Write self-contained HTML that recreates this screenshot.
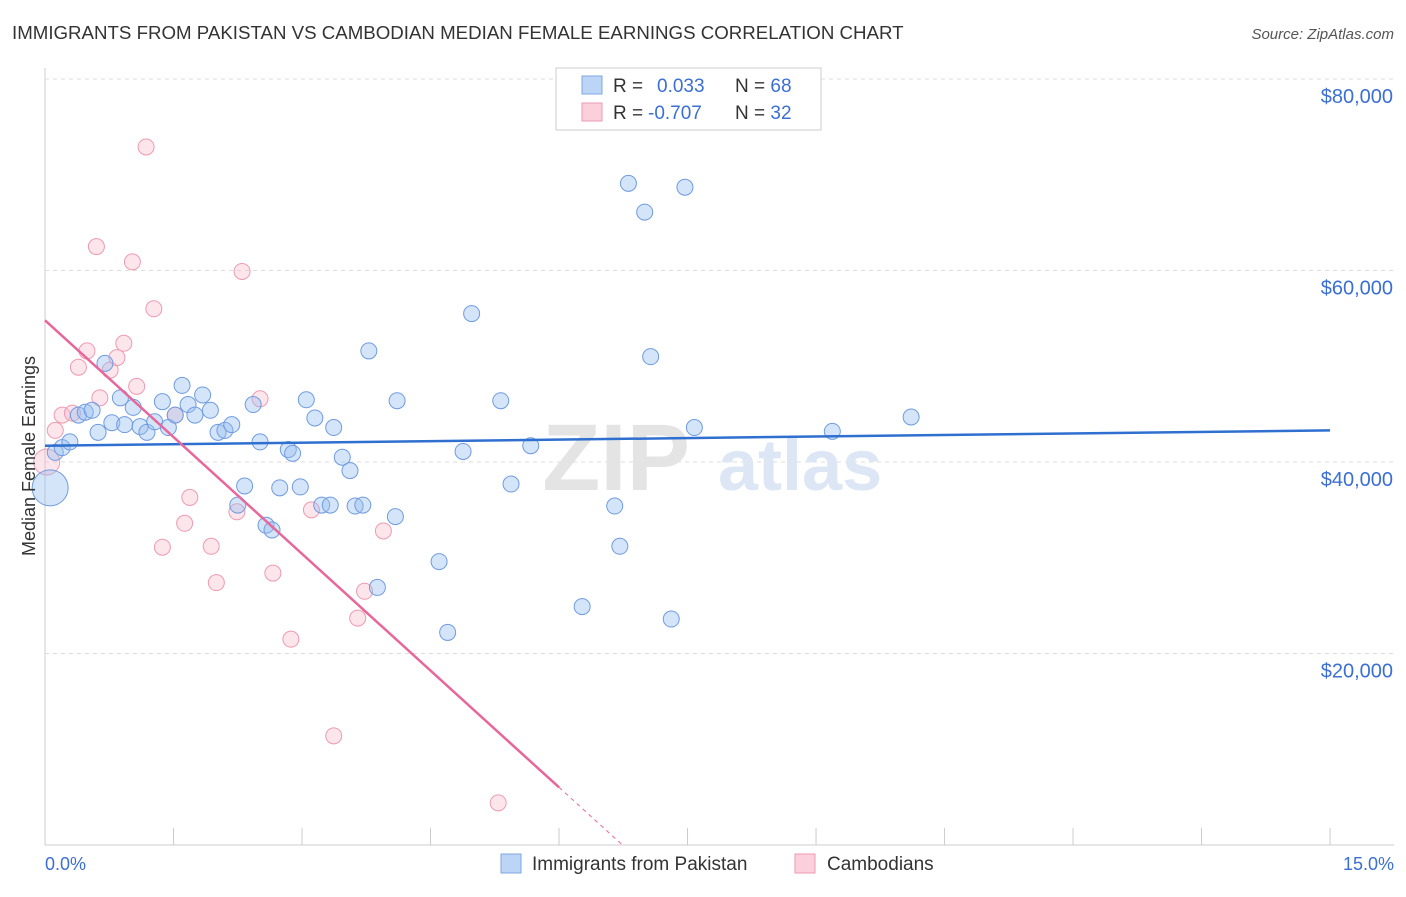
<!DOCTYPE html>
<html><head><meta charset="utf-8"><style>
body{margin:0;background:#fff;font-family:"Liberation Sans",sans-serif;}
svg text{font-family:"Liberation Sans",sans-serif;}
</style></head><body>
<svg id="chart" width="1406" height="892" xmlns="http://www.w3.org/2000/svg">
<text x="12" y="39" font-size="18.7" fill="#333">IMMIGRANTS FROM PAKISTAN VS CAMBODIAN MEDIAN FEMALE EARNINGS CORRELATION CHART</text>
<text x="1394" y="39" font-size="15" fill="#555" font-style="italic" text-anchor="end">Source: ZipAtlas.com</text>
<g id="grid"></g>
<text x="690" y="490" font-size="95" fill="#e4e4e4" font-family="Liberation Serif" text-anchor="end" font-weight="bold">ZIP</text>
<text x="718" y="490" font-size="72" fill="#dce6f5" font-weight="bold">atlas</text>
<g id="pts"></g>
<g id="lines"></g>
<text x="35" y="456" font-size="18" fill="#333" text-anchor="middle" transform="rotate(-90 35 456)">Median Female Earnings</text>
<text x="45" y="870" font-size="18" fill="#3b6fd4">0.0%</text>
<text x="1394" y="870" font-size="18" fill="#3b6fd4" text-anchor="end">15.0%</text>
<g>
<rect x="556" y="68" width="265" height="62" fill="#fff" stroke="#ccc"/>
<rect x="582" y="76" width="20" height="18" fill="#bcd4f5" stroke="#7fa6e0"/>
<rect x="582" y="103" width="20" height="18" fill="#fbd0dc" stroke="#ee9ab2"/>
<text x="613" y="92" font-size="19" fill="#333">R = <tspan fill="#3b6fd4" x="657">0.033</tspan><tspan x="735">N = </tspan><tspan fill="#3b6fd4">68</tspan></text>
<text x="613" y="119" font-size="19" fill="#333">R = <tspan fill="#3b6fd4" x="648">-0.707</tspan><tspan x="735">N = </tspan><tspan fill="#3b6fd4">32</tspan></text>
</g>
<g>
<rect x="501" y="854" width="20" height="19" fill="#bcd4f5" stroke="#7fa6e0"/>
<text x="532" y="870" font-size="19" fill="#333">Immigrants from Pakistan</text>
<rect x="795" y="854" width="20" height="19" fill="#fbd0dc" stroke="#ee9ab2"/>
<text x="827" y="870" font-size="19" fill="#333">Cambodians</text>
</g>
</svg>
<script>
const yTicks=[20000,40000,60000,80000];
const yTickLabels=["$20,000","$40,000","$60,000","$80,000"];
const blueX=[0.06,0.12,0.20,0.29,0.39,0.47,0.55,0.62,0.70,0.78,0.88,0.93,1.03,1.11,1.19,1.28,1.37,1.44,1.52,1.60,1.67,1.75,1.84,1.93,2.02,2.10,2.18,2.25,2.33,2.43,2.51,2.58,2.65,2.74,2.84,2.89,2.98,3.05,3.15,3.23,3.33,3.37,3.47,3.56,3.62,3.71,3.78,3.88,4.09,4.11,4.60,4.70,4.88,4.98,5.32,5.44,5.67,6.27,6.65,6.71,6.81,7.00,7.07,7.31,7.47,7.58,9.19,10.11];
const blueY=[37300,41000,41500,42100,44900,45200,45400,43100,50300,44100,46700,43900,45700,43700,43100,44200,46300,43600,44900,48000,46000,44900,47000,45400,43100,43300,43900,35500,37500,46000,42100,33400,32900,37300,41300,40900,37400,46500,44600,35500,35500,43600,40500,39100,35400,35500,51600,26900,34300,46400,29600,22200,41100,55500,46400,37700,41700,24900,35400,31200,69100,66100,51000,23600,68700,43600,43200,44700];
const pinkX=[0.02,0.12,0.20,0.32,0.39,0.49,0.60,0.64,0.76,0.84,0.92,1.02,1.07,1.18,1.27,1.37,1.52,1.63,1.69,1.94,2.00,2.24,2.30,2.51,2.66,2.87,3.11,3.37,3.65,3.73,3.95,5.29];
const pinkY=[40000,43300,44900,45100,49900,51600,62500,46700,49600,50900,52400,60900,47900,72900,56000,31100,44900,33600,36300,31200,27400,34800,59900,46600,28400,21500,35000,11400,23700,26500,32800,4400];
const blueTrend=[41700,43300];
const pinkTrend=[54800,-8130];
const NS="http://www.w3.org/2000/svg";
const xs=p=>45+p*85.67;
const ys=v=>845-v/20000*191.5;
function mk(tag,attrs,parent){const e=document.createElementNS(NS,tag);for(const k in attrs)e.setAttribute(k,attrs[k]);parent.appendChild(e);return e;}
const grid=document.getElementById('grid');
mk('line',{x1:45,y1:68,x2:45,y2:845,stroke:'#ccc'},grid);
mk('line',{x1:45,y1:845,x2:1394,y2:845,stroke:'#ccc'},grid);
for(let i=0;i<=10;i++){const l=mk('line',{x1:xs(i*1.5),y1:828,x2:xs(i*1.5),y2:845,stroke:'#ccc'},grid);

}
yTicks.forEach((t,i)=>{const l=mk('line',{x1:45,y1:ys(t),x2:1394,y2:ys(t),stroke:'#ddd','stroke-dasharray':'4,4'},grid);


const tx=mk('text',{x:1393,y:ys(t)+24,'font-size':20,fill:'#3b6fd4','text-anchor':'end'},grid);
tx.textContent=yTickLabels[i];

});
const pts=document.getElementById('pts');
pinkX.forEach((x,i)=>{const c=mk('circle',{cx:xs(x),cy:ys(pinkY[i]),r:i==0?13:8,fill:'rgba(248,180,200,0.35)',stroke:'#ee9ab2','stroke-width':1},pts);

});
blueX.forEach((x,i)=>{const c=mk('circle',{cx:xs(x),cy:ys(blueY[i]),r:i==0?18:8,fill:'rgba(150,190,240,0.4)',stroke:'#6f9be0','stroke-width':1},pts);

});
const lines=document.getElementById('lines');
const bl=mk('line',{x1:xs(0),y1:ys(blueTrend[0]),x2:xs(15),y2:ys(blueTrend[1]),stroke:'#2f6fd0','stroke-width':2.5},lines);


const pe=6.0,pz=-pinkTrend[0]/pinkTrend[1];
const pl=mk('line',{x1:xs(0),y1:ys(pinkTrend[0]),x2:xs(pe),y2:ys(pinkTrend[0]+pinkTrend[1]*pe),stroke:'#e8679a','stroke-width':2.5},lines);


const pd=mk('line',{x1:xs(pe),y1:ys(pinkTrend[0]+pinkTrend[1]*pe),x2:xs(pz),y2:ys(0),stroke:'#e8679a','stroke-width':1,'stroke-dasharray':'4,4'},lines);


</script>
</body></html>
